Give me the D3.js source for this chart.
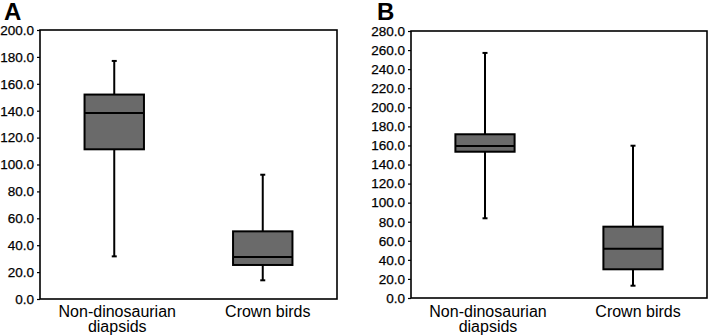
<!DOCTYPE html>
<html>
<head>
<meta charset="utf-8">
<script src="https://cdn.jsdelivr.net/npm/d3@7"></script>
<style>
  body { margin: 0; background: #fff; }
  svg { display: block; font-family: Arial, "Liberation Sans", sans-serif; }
</style>
</head>
<body>
<svg id="chart" width="708" height="335"></svg>
<script>
// categories (two lines each for the label)
const categories = ['Non-dinosaurian diapsids', 'Crown birds']
const categoryLines = [['Non-dinosaurian', 'diapsids'], ['Crown birds']]

// panel A: [whisker low, Q1, median, Q3, whisker high]
const statsA = [
  [31.7, 111.3, 138.3, 152, 177],
  [13.9, 25.3, 31.2, 50.3, 92.4]
]
// panel B
const statsB = [
  [83.6, 153.4, 159.4, 171.7, 257],
  [12.9, 30.1, 51.7, 74.8, 159.7]
]

const yTicksA = [0, 20, 40, 60, 80, 100, 120, 140, 160, 180, 200]
const yTicksB = [0, 20, 40, 60, 80, 100, 120, 140, 160, 180, 200, 220, 240, 260, 280]

const svg = d3.select('#chart')

function drawPanel(opts) {
  const { letter, stats, ticks, left, right, top, bottom, letterX } = opts
  const g = svg.append('g')

  const x = d3.scaleBand()
    .domain(categories)
    .range([left, right])
    .padding(0)

  const y = d3.scaleLinear()
    .domain([0, ticks[ticks.length - 1]])
    .range([bottom, top])

  // panel letter
  g.append('text')
    .attr('x', letterX)
    .attr('y', 20)
    .style('font-size', '24px')
    .style('font-weight', 'bold')
    .text(letter)

  // y axis ticks + labels
  const yAxis = g.append('g')
    .attr('transform', `translate(${left},0)`)
    .call(d3.axisLeft(y).tickValues(ticks).tickSize(3).tickPadding(3).tickFormat(d3.format('.1f')))
  yAxis.select('.domain').remove()
  yAxis.selectAll('line').attr('stroke', '#000').attr('stroke-width', 1.2)
  yAxis.selectAll('text')
    .attr('fill', '#000')
    .style('font-size', '13.5px')
    .style('font-family', 'Arial, "Liberation Sans", sans-serif')
    .style('stroke', '#000')
    .style('stroke-width', 0.25)

  // frame
  g.append('rect')
    .attr('x', left)
    .attr('y', top)
    .attr('width', right - left)
    .attr('height', bottom - top)
    .attr('fill', 'none')
    .attr('stroke', '#000')
    .attr('stroke-width', 1.6)

  const boxW = x.bandwidth() * 0.4
  const capW = 5

  const boxes = g.selectAll('g.box')
    .data(stats.map((s, i) => ({ cat: categories[i], s })))
    .join('g')
    .attr('class', 'box')
    .attr('transform', d => `translate(${x(d.cat) + x.bandwidth() / 2},0)`)

  // whisker line
  boxes.append('line')
    .attr('x1', 0).attr('x2', 0)
    .attr('y1', d => y(d.s[0]))
    .attr('y2', d => y(d.s[4]))
    .attr('stroke', '#000')
    .attr('stroke-width', 2)

  // whisker caps
  boxes.selectAll('line.cap')
    .data(d => [d.s[0], d.s[4]])
    .join('line')
    .attr('class', 'cap')
    .attr('x1', -capW / 2).attr('x2', capW / 2)
    .attr('y1', v => y(v)).attr('y2', v => y(v))
    .attr('stroke', '#000')
    .attr('stroke-width', 2)

  // box
  boxes.append('rect')
    .attr('x', -boxW / 2)
    .attr('width', boxW)
    .attr('y', d => y(d.s[3]))
    .attr('height', d => y(d.s[1]) - y(d.s[3]))
    .attr('fill', '#6a6a6a')
    .attr('stroke', '#000')
    .attr('stroke-width', 2)

  // median
  boxes.append('line')
    .attr('x1', -boxW / 2).attr('x2', boxW / 2)
    .attr('y1', d => y(d.s[2])).attr('y2', d => y(d.s[2]))
    .attr('stroke', '#000')
    .attr('stroke-width', 2)

  // category labels
  const labels = g.selectAll('text.cat')
    .data(categories)
    .join('text')
    .attr('class', 'cat')
    .attr('text-anchor', 'middle')
    .attr('fill', '#000')
    .style('font-size', '16px')
    .attr('transform', (d, i) => `translate(${x(d) + x.bandwidth() / 2 + 3 + i * 2},317)`)

  labels.selectAll('tspan')
    .data((d, i) => categoryLines[i])
    .join('tspan')
    .attr('x', 0)
    .attr('y', (d, j) => j * 14.5)
    .text(d => d)
}

drawPanel({ letter: 'A', stats: statsA, ticks: yTicksA, left: 40, right: 337, top: 30, bottom: 299, letterX: 4 })
drawPanel({ letter: 'B', stats: statsB, ticks: yTicksB, left: 411, right: 707, top: 31, bottom: 298, letterX: 377 })
</script>
</body>
</html>
